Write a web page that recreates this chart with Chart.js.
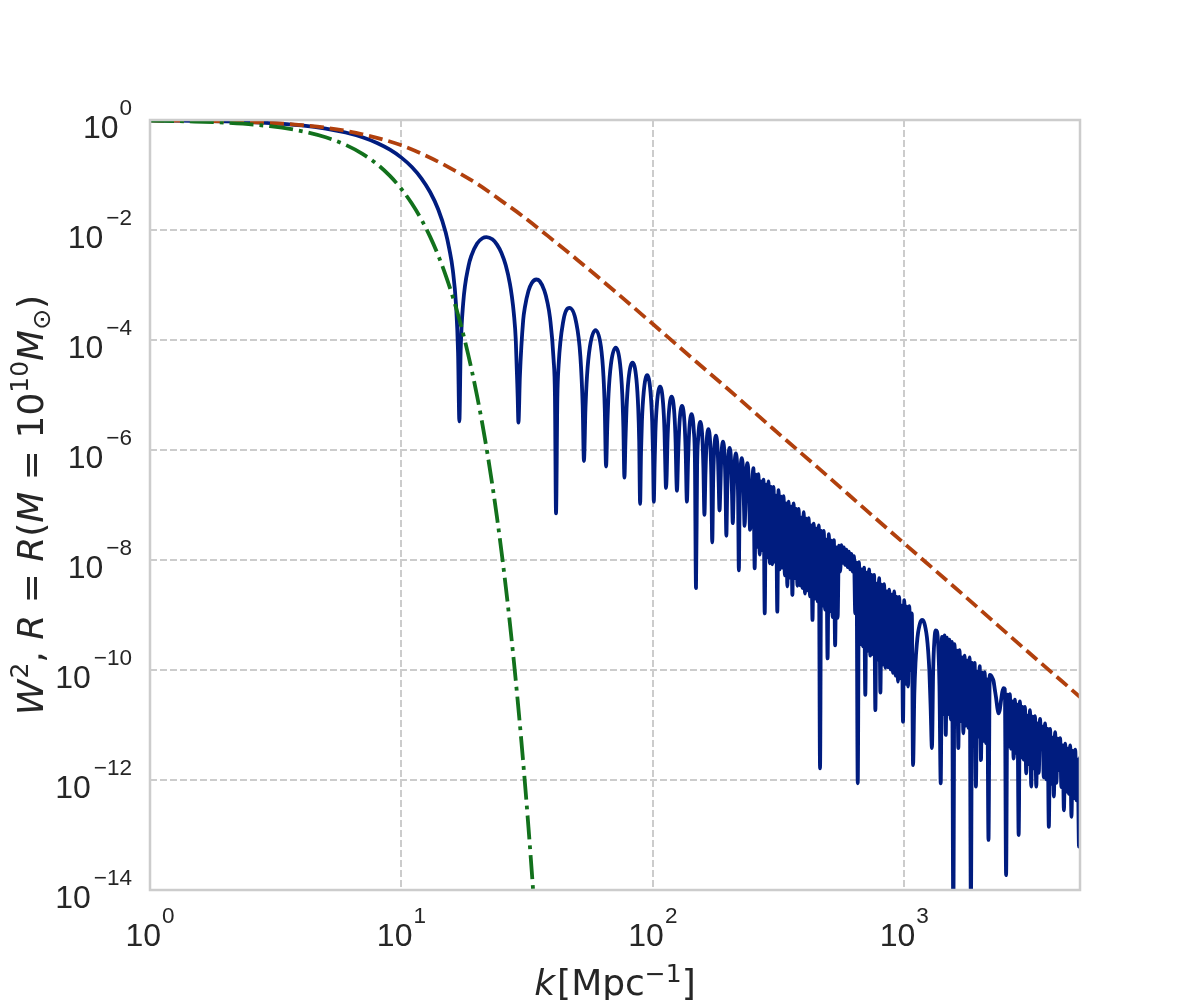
<!DOCTYPE html>
<html>
<head>
<meta charset="utf-8">
<script src="https://cdn.jsdelivr.net/npm/chart.js@4.4.1/dist/chart.umd.min.js"></script>
<style>
  html, body { margin: 0; padding: 0; background: #ffffff; }
  canvas { display: block; }
</style>
</head>
<body>
<canvas id="windowChart" width="1200" height="1000"></canvas>
<script>
// axis range and tick exponents
const kMin = 1;
const kMax = 5000;
const xTickExp = [0, 1, 2, 3];
const yTickExp = [0, -2, -4, -6, -8, -10, -12, -14];

// top-hat window, resolved lobes: k [Mpc^-1] and log10(W^2)
const tophatK = [
    1, 2, 3, 4, 5, 6, 7, 8, 9, 10, 11, 12, 13, 14, 15, 15.5, 16, 16.5, 16.8, 17.0,
    17.2, 17.6, 18.5, 19, 20, 21, 21.8, 23, 24, 25, 26, 27, 27.5, 28, 28.5, 29.0, 29.2,
    29.6, 30.5, 31, 32, 33, 34.4, 35.5, 37, 38, 39, 40.3, 40.8, 41.2,
    41.7, 42.2, 44, 46.6, 49.5, 51.5, 52.6, 53.2,
    53.96, 54.71, 56.20, 59.17, 62.15, 63.63, 64.38, 65.16,
    65.90, 66.65, 68.14, 71.11, 74.09, 75.57, 76.32, 77.08,
    77.82, 78.57, 80.06, 83.03, 86.01, 87.49, 88.24, 88.99,
    89.73, 90.48, 91.97, 94.94, 97.92, 99.40, 100.15, 100.89,
    101.63, 102.38, 103.87, 106.84, 109.82, 111.30, 112.05, 112.80,
    113.54, 114.29, 115.78, 118.75, 121.73, 123.21, 123.96, 124.69,
    126.18, 127.67, 130.64, 133.62, 135.10, 136.59,
    138.08, 139.57, 142.54, 145.52, 147.00, 148.48,
    149.97, 151.46, 154.43, 157.41, 158.89, 160.38,
    161.87, 163.36, 166.33, 169.31, 170.79, 172.27,
    173.76, 175.25, 178.22, 181.20, 182.68, 184.16,
    185.65, 187.14, 190.11, 193.09, 194.57, 196.05,
    197.54, 199.03, 202.00, 204.98, 206.46, 207.94,
    209.43, 210.92, 213.89, 216.87, 218.35, 219.83,
    221.32, 222.81, 225.78, 228.76, 230.24, 231.71,
    233.20, 234.69, 237.66, 240.64, 242.12, 243.60
];
const tophatLogW2 = [
    -0.006, -0.025, -0.055, -0.099, -0.156, -0.227, -0.314, -0.418, -0.540, -0.684, -0.855, -1.060, -1.309, -1.622, -2.044, -2.343, -2.72, -3.38, -4.23, -5.48,
    -4.21, -3.34, -2.647, -2.461, -2.246, -2.150, -2.129, -2.170, -2.265, -2.418, -2.643, -2.975, -3.21, -3.52, -4.00, -5.03, -5.50,
    -4.65, -3.64, -3.398, -3.108, -2.962, -2.90, -2.932, -3.097, -3.296, -3.60, -4.36, -5.02, -7.15,
    -5.07, -4.45, -3.666, -3.417, -3.67, -4.30, -5.20, -6.20,
    -5.24, -4.66, -4.12, -3.82, -4.12, -4.66, -5.24, -6.30,
    -5.56, -4.98, -4.44, -4.14, -4.44, -4.98, -5.56, -6.50,
    -5.83, -5.25, -4.71, -4.41, -4.71, -5.25, -5.83, -6.98,
    -6.06, -5.48, -4.95, -4.64, -4.95, -5.48, -6.06, -6.94,
    -6.27, -5.68, -5.15, -4.85, -5.15, -5.68, -6.27, -6.69,
    -6.45, -5.87, -5.33, -5.03, -5.33, -5.87, -6.45, -6.74,
    -6.03, -5.50, -5.20, -5.50, -6.03, -6.94,
    -6.18, -5.65, -5.35, -5.65, -6.18, -8.51,
    -6.32, -5.79, -5.49, -5.79, -6.32, -7.18,
    -6.45, -5.92, -5.62, -5.92, -6.45, -7.68,
    -6.57, -6.04, -5.74, -6.04, -6.57, -7.10,
    -6.68, -6.15, -5.85, -6.15, -6.68, -7.56,
    -6.79, -6.26, -5.96, -6.26, -6.79, -7.33,
    -6.89, -6.36, -6.06, -6.36, -6.89, -8.19,
    -6.98, -6.45, -6.15, -6.45, -6.98, -7.38,
    -7.07, -6.54, -6.24, -6.54, -7.07, -7.45
];

// top-hat window, dense (aliased) high-k part: log10 k and log10(W^2)
const tophatDenseLogK = [
    2.400, 2.405, 2.410, 2.415, 2.420, 2.425, 2.430, 2.435, 2.440, 2.445,
    2.450, 2.455, 2.460, 2.465, 2.470, 2.475, 2.480, 2.485, 2.490, 2.495,
    2.500, 2.505, 2.510, 2.515, 2.520, 2.525, 2.530, 2.535, 2.540, 2.545,
    2.550, 2.555, 2.560, 2.565, 2.570, 2.575, 2.580, 2.585, 2.590, 2.595,
    2.600, 2.605, 2.610, 2.615, 2.620, 2.625, 2.630, 2.635, 2.640, 2.645,
    2.650, 2.655, 2.660, 2.665, 2.670, 2.675, 2.680, 2.685, 2.690, 2.695,
    2.700, 2.705, 2.710, 2.715, 2.720, 2.725, 2.730, 2.735, 2.740, 2.745,
    2.750, 2.755, 2.760, 2.765, 2.770, 2.775, 2.780, 2.785, 2.790, 2.795,
    2.800, 2.805, 2.810, 2.815, 2.820, 2.825, 2.830, 2.835, 2.840, 2.845,
    2.850, 2.855, 2.860, 2.865, 2.870, 2.875, 2.880, 2.885, 2.890, 2.895,
    2.900, 2.905, 2.910, 2.915, 2.920, 2.925, 2.930, 2.935, 2.940, 2.945,
    2.950, 2.955, 2.960, 2.965, 2.970, 2.975, 2.980, 2.985, 2.990, 2.995,
    3.000, 3.005, 3.010, 3.015, 3.020, 3.025, 3.030, 3.035, 3.040, 3.045,
    3.050, 3.055, 3.060, 3.065, 3.070, 3.075, 3.080, 3.085, 3.090, 3.095,
    3.100, 3.105, 3.110, 3.115, 3.120, 3.125, 3.130, 3.135, 3.140, 3.145,
    3.150, 3.155, 3.160, 3.165, 3.170, 3.175, 3.180, 3.185, 3.190, 3.195,
    3.200, 3.205, 3.210, 3.215, 3.220, 3.225, 3.230, 3.235, 3.240, 3.245,
    3.250, 3.255, 3.260, 3.265, 3.270, 3.275, 3.280, 3.285, 3.290, 3.295,
    3.300, 3.305, 3.310, 3.315, 3.320, 3.325, 3.330, 3.335, 3.340, 3.345,
    3.350, 3.355, 3.360, 3.365, 3.370, 3.375, 3.380, 3.385, 3.390, 3.395,
    3.400, 3.405, 3.410, 3.415, 3.420, 3.425, 3.430, 3.435, 3.440, 3.445,
    3.450, 3.455, 3.460, 3.465, 3.470, 3.475, 3.480, 3.485, 3.490, 3.495,
    3.500, 3.505, 3.510, 3.515, 3.520, 3.525, 3.530, 3.535, 3.540, 3.545,
    3.550, 3.555, 3.560, 3.565, 3.570, 3.575, 3.580, 3.585, 3.590, 3.595,
    3.600, 3.605, 3.610, 3.615, 3.620, 3.625, 3.630, 3.635, 3.640, 3.645,
    3.650, 3.655, 3.660, 3.665, 3.670, 3.675, 3.680, 3.685, 3.690, 3.695,
    3.699
];
const tophatDenseLogW2 = [
    -6.33, -8.15, -6.45, -7.76, -6.44, -7.90, -6.57, -7.82, -6.54, -8.97,
    -6.63, -7.95, -6.57, -8.06, -6.67, -8.08, -6.67, -8.03, -6.83, -8.94,
    -6.73, -8.17, -6.85, -8.14, -6.84, -8.28, -6.97, -8.48, -6.94, -8.32,
    -7.03, -8.64, -6.97, -8.33, -7.07, -8.47, -7.07, -8.46, -7.23, -8.51,
    -7.13, -8.61, -7.25, -8.55, -7.24, -8.66, -7.37, -9.09, -7.34, -8.70,
    -7.43, -8.75, -7.37, -11.79, -7.47, -8.83, -7.47, -8.90, -7.63, -9.79,
    -7.53, -8.93, -7.65, -9.04, -7.64, -9.55, -7.77, -9.05, -7.74, -8.21,
    -7.73, -8.05, -7.77, -8.09, -7.81, -8.13, -7.85, -8.17, -7.89, -8.21,
    -7.93, -8.97, -8.05, -12.06, -8.04, -9.53, -8.17, -9.57, -8.14, -10.45,
    -8.23, -9.65, -8.17, -9.74, -8.27, -9.71, -8.27, -10.73, -8.43, -9.81,
    -8.33, -10.41, -8.45, -9.90, -8.44, -9.96, -8.57, -9.95, -8.54, -9.99,
    -8.63, -10.05, -8.57, -10.10, -8.67, -10.21, -8.67, -10.15, -8.83, -10.94,
    -8.73, -10.25, -8.85, -10.30, -8.84, -10.00, -8.97, -11.73, -10.44, -9.85,
    -9.53, -9.32, -9.20, -9.12, -9.09, -9.10, -9.15, -9.25, -9.40, -9.65,
    -10.03, -10.70, -11.42, -10.00, -9.45, -9.28, -9.30, -9.55, -10.30, -12.06,
    -9.40, -10.80, -9.37, -11.18, -9.41, -10.80, -9.45, -10.90, -9.49, -14.50,
    -9.53, -10.85, -9.65, -11.42, -9.64, -10.93, -9.77, -11.15, -9.74, -11.01,
    -9.83, -11.05, -9.77, -14.30, -9.87, -11.10, -9.87, -12.12, -10.03, -11.21,
    -9.93, -11.64, -10.05, -11.29, -10.04, -11.33, -10.17, -13.09, -10.09, -10.10,
    -10.14, -10.20, -10.35, -10.50, -10.68, -10.79, -10.72, -10.55, -10.40, -10.33,
    -10.35, -13.73, -10.45, -11.39, -10.44, -11.43, -10.57, -11.61, -10.54, -11.51,
    -10.63, -13.00, -10.57, -11.59, -10.67, -11.63, -10.67, -11.88, -10.83, -11.71,
    -10.73, -12.12, -10.85, -11.79, -10.84, -12.12, -10.97, -11.87, -10.89, -11.41,
    -11.03, -11.95, -10.97, -11.99, -11.07, -12.85, -11.07, -12.07, -11.23, -12.30,
    -11.13, -12.05, -11.25, -11.82, -11.24, -12.13, -11.37, -12.55, -11.34, -12.21,
    -11.43, -12.25, -11.37, -12.67, -11.47, -12.33, -11.45, -12.37, -11.63, -13.21,
    -11.60
];

// gaussian window (dash-dot)
const gaussK = [1, 1.5, 2, 3, 4, 5, 6, 7, 8, 9, 10, 11, 12, 13, 14, 15, 16, 17, 18, 19,
    20, 21, 22, 23, 24, 25, 26, 27, 28, 29, 30, 31, 32, 33, 34];
const gaussLogW2 = [-0.013, -0.028, -0.050, -0.113, -0.201, -0.314, -0.452, -0.615, -0.803, -1.017,
    -1.255, -1.519, -1.807, -2.121, -2.460, -2.824, -3.213, -3.627, -4.066, -4.531,
    -5.020, -5.535, -6.074, -6.639, -7.229, -7.844, -8.484, -9.149, -9.839, -10.555,
    -11.295, -12.061, -12.851, -13.667, -14.508];

// smooth power-law window (dashed)
const smoothK = [1, 2, 3, 4, 5, 7, 10, 12, 15, 20, 25, 30, 40, 50, 70, 100, 150, 200, 300, 500, 700, 1000, 1500, 2000, 3000, 5000];
const smoothLogW2 = [-0.006, -0.024, -0.053, -0.093, -0.14, -0.26, -0.46, -0.61, -0.83, -1.16, -1.47, -1.73, -2.18, -2.54,
    -3.10, -3.71, -4.41, -4.90, -5.61, -6.49, -7.08, -7.70, -8.40, -8.90, -9.61, -10.49];

const textColor = '#262626';
const gridColor = '#cccccc';
const tickFace = '"Liberation Sans", Arial, sans-serif';
const mathFace = '"DejaVu Sans", sans-serif';

function toPoints(ks, logs) {
    return ks.map((k, i) => ({ x: k, y: Math.pow(10, logs[i]) }));
}

const tophatPoints = toPoints(tophatK, tophatLogW2).concat(
    tophatDenseLogK.map((lk, i) => ({ x: Math.pow(10, lk), y: Math.pow(10, tophatDenseLogW2[i]) }))
);

function supText(e) {
    return String(e).replace('-', '\u2212');
}

// draws a row of text pieces, some raised (superscripts) or lowered (subscripts)
function drawPieces(ctx, pieces, x, y, align) {
    let total = 0;
    pieces.forEach(p => {
        ctx.font = p.font;
        p.w = ctx.measureText(p.t).width + (p.gap || 0);
        total += p.w;
    });
    let cx = x;
    if (align === 'right') cx = x - total;
    if (align === 'center') cx = x - total / 2;
    pieces.forEach(p => {
        ctx.font = p.font;
        ctx.fillText(p.t, cx, y - (p.rise || 0));
        cx += p.w;
    });
}

const textPlugin = {
    id: 'mathText',
    afterDatasetsDraw(chart) {
        const { ctx, chartArea: a } = chart;
        ctx.save();
        ctx.strokeStyle = gridColor;
        ctx.lineWidth = 2.5;
        ctx.strokeRect(a.left, a.top, a.right - a.left, a.bottom - a.top);
        ctx.restore();
    },
    afterDraw(chart) {
        const ctx = chart.ctx;
        const xs = chart.scales.x;
        const ys = chart.scales.y;
        ctx.save();
        ctx.fillStyle = textColor;
        ctx.textBaseline = 'alphabetic';
        ctx.textAlign = 'left';

        const base = '32px ' + tickFace;
        const small = '22.5px ' + tickFace;
        xTickExp.forEach(e => {
            const px = xs.getPixelForValue(Math.pow(10, e));
            drawPieces(ctx, [
                { t: '10', font: base, gap: 1 },
                { t: supText(e), font: small, rise: 23 }
            ], px, 946, 'center');
        });
        yTickExp.forEach(e => {
            const py = ys.getPixelForValue(Math.pow(10, e));
            drawPieces(ctx, [
                { t: '10', font: base, gap: e < 0 ? 3 : 1 },
                { t: supText(e), font: small, rise: 23 }
            ], 132, py + 18, 'right');
        });

        // x axis title
        const m = '36px ' + mathFace;
        const mi = 'italic 36px ' + mathFace;
        const ms = '25px ' + mathFace;
        drawPieces(ctx, [
            { t: 'k', font: mi, gap: 2 },
            { t: '[Mpc', font: m },
            { t: '\u22121', font: ms, rise: 13 },
            { t: ']', font: m }
        ], (chart.chartArea.left + chart.chartArea.right) / 2, 995, 'center');

        // y axis title, rotated
        ctx.translate(43, (chart.chartArea.top + chart.chartArea.bottom) / 2);
        ctx.rotate(-Math.PI / 2);
        drawPieces(ctx, [
            { t: 'W', font: mi, gap: 1 },
            { t: '2', font: ms, rise: 15 },
            { t: ', ', font: m },
            { t: 'R', font: mi },
            { t: ' = ', font: m },
            { t: 'R', font: mi },
            { t: '(', font: m },
            { t: 'M', font: mi },
            { t: ' = ', font: m },
            { t: '10', font: m },
            { t: '10', font: ms, rise: 15 },
            { t: 'M', font: mi },
            { t: '\u2299', font: ms, rise: -7 },
            { t: ')', font: m }
        ], 0, 0, 'center');
        ctx.restore();
    }
};

function logAxis(min, max, exps, fitSide) {
    return {
        type: 'logarithmic',
        min: min,
        max: max,
        afterBuildTicks: s => { s.ticks = exps.map(e => ({ value: Math.pow(10, e) })); },
        afterFit: fitSide,
        ticks: { display: false, autoSkip: false },
        grid: { color: gridColor, lineWidth: 2, drawTicks: false, tickLength: 0 },
        border: { display: false, dash: [7, 3] }
    };
}

const ctx = document.getElementById('windowChart').getContext('2d');
const windowChart = new Chart(ctx, {
    type: 'line',
    data: {
        datasets: [{
            label: 'top-hat',
            data: tophatPoints,
            borderColor: '#001c7f',
            borderWidth: 3.8,
            borderCapStyle: 'round',
            borderJoinStyle: 'round',
            pointRadius: 0,
            cubicInterpolationMode: 'monotone',
            clip: 0,
            order: 3
        }, {
            label: 'smooth',
            data: toPoints(smoothK, smoothLogW2),
            borderColor: '#b1400d',
            borderWidth: 3.8,
            borderDash: [14, 6],
            borderCapStyle: 'butt',
            pointRadius: 0,
            cubicInterpolationMode: 'monotone',
            clip: 0,
            order: 2
        }, {
            label: 'gaussian',
            data: toPoints(gaussK, gaussLogW2),
            borderColor: '#12711c',
            borderWidth: 3.8,
            borderDash: [24, 6, 3.8, 6],
            borderCapStyle: 'butt',
            pointRadius: 0,
            cubicInterpolationMode: 'monotone',
            clip: 0,
            order: 1
        }]
    },
    options: {
        responsive: false,
        animation: false,
        devicePixelRatio: 1,
        layout: { padding: { left: 0, right: 120, top: 120, bottom: 0 } },
        plugins: { legend: { display: false }, tooltip: { enabled: false } },
        scales: {
            x: logAxis(kMin, kMax, xTickExp, s => { s.height = 110; }),
            y: logAxis(1e-14, 1, yTickExp, s => { s.width = 150; })
        }
    },
    plugins: [textPlugin]
});
</script>
</body>
</html>
